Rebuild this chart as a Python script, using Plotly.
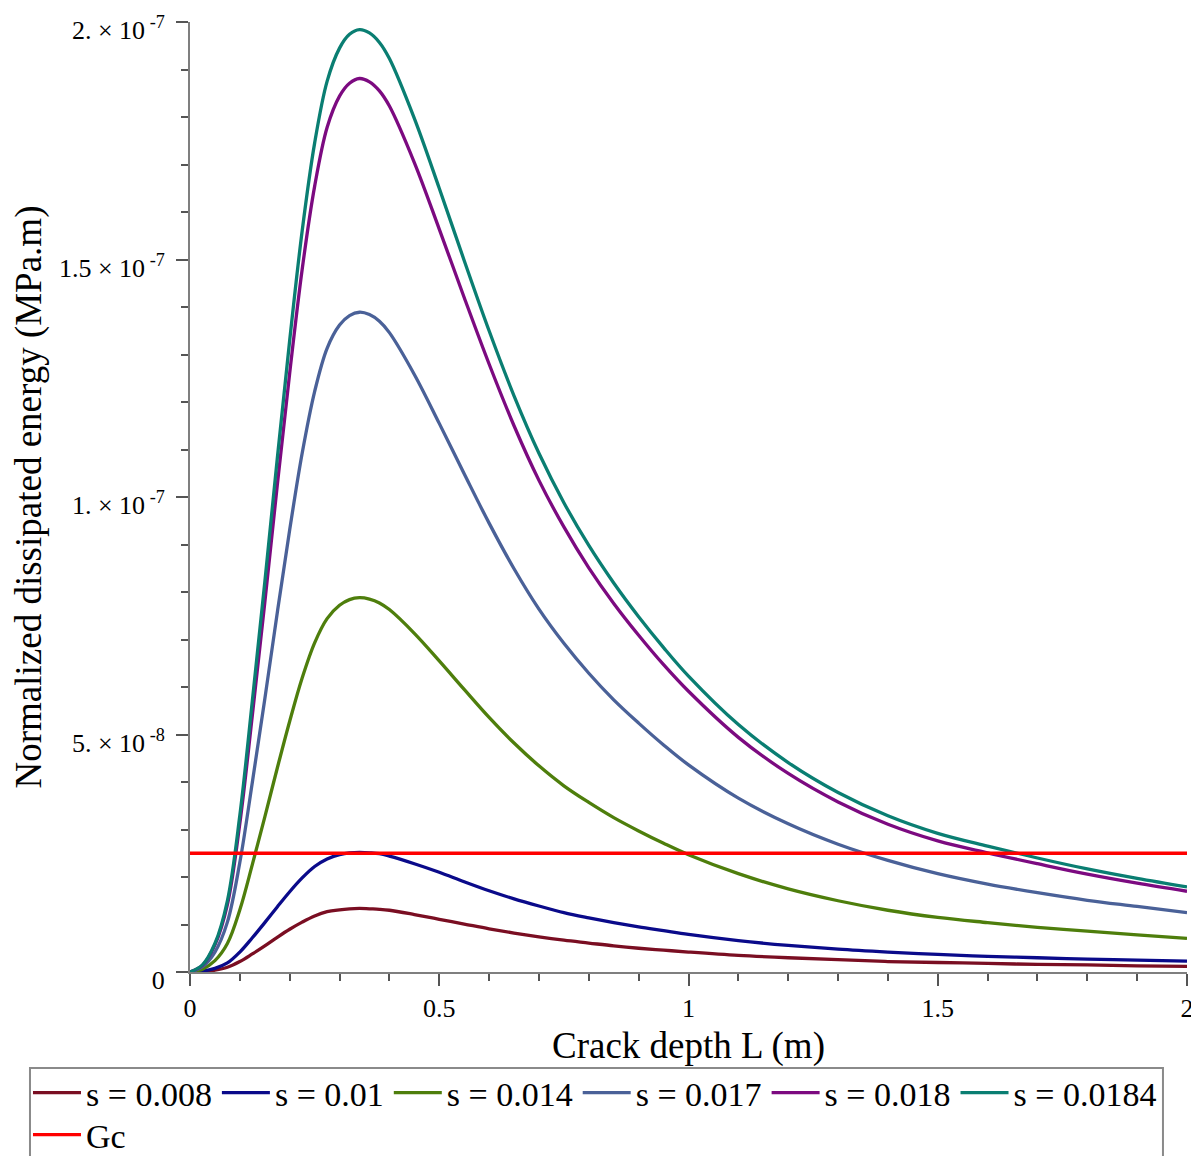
import plotly.graph_objects as go

# Crack depth L (m)
L = [0, 0.025, 0.05, 0.075, 0.1, 0.125, 0.15, 0.175, 0.2, 0.225, 0.25, 0.275, 0.3, 0.32,
     0.34, 0.36, 0.38, 0.4, 0.45, 0.5, 0.55, 0.6, 0.65, 0.7, 0.75, 0.8, 0.85, 0.9, 0.95,
     1.0, 1.1, 1.2, 1.3, 1.4, 1.5, 1.6, 1.7, 1.8, 1.9, 2.0]

# Normalized dissipated energy, in units of 1e-7 MPa.m
s_0008 = [0, 0.001, 0.004, 0.010, 0.022, 0.038, 0.055, 0.073, 0.090, 0.105, 0.118, 0.127,
          0.131, 0.133, 0.134, 0.133, 0.132, 0.130, 0.121, 0.111, 0.101, 0.091, 0.082, 0.074,
          0.067, 0.061, 0.055, 0.050, 0.046, 0.042, 0.035, 0.030, 0.026, 0.022, 0.020, 0.018,
          0.016, 0.015, 0.013, 0.012]
s_001 = [0, 0.0019, 0.0076, 0.019, 0.042, 0.072, 0.104, 0.137, 0.169, 0.198, 0.222, 0.238,
         0.247, 0.251, 0.252, 0.251, 0.249, 0.244, 0.228, 0.210, 0.190, 0.171, 0.154, 0.139,
         0.125, 0.114, 0.104, 0.095, 0.087, 0.079, 0.066, 0.056, 0.048, 0.042, 0.037, 0.033,
         0.030, 0.027, 0.025, 0.023]
s_0014 = [0, 0.006, 0.024, 0.060, 0.131, 0.226, 0.326, 0.429, 0.528, 0.619, 0.693, 0.744,
          0.772, 0.784, 0.788, 0.785, 0.777, 0.763, 0.713, 0.655, 0.595, 0.536, 0.482, 0.434,
          0.392, 0.357, 0.325, 0.297, 0.271, 0.247, 0.207, 0.175, 0.150, 0.130, 0.115, 0.104,
          0.094, 0.086, 0.078, 0.071]
s_0017 = [0, 0.011, 0.042, 0.105, 0.231, 0.399, 0.574, 0.756, 0.931, 1.092, 1.222, 1.313,
          1.362, 1.382, 1.389, 1.384, 1.370, 1.346, 1.258, 1.155, 1.049, 0.945, 0.849, 0.764,
          0.692, 0.629, 0.573, 0.524, 0.478, 0.436, 0.366, 0.312, 0.269, 0.235, 0.207, 0.185,
          0.167, 0.151, 0.138, 0.125]
s_0018 = [0, 0.014, 0.057, 0.142, 0.313, 0.540, 0.777, 1.024, 1.261, 1.479, 1.654, 1.778,
          1.844, 1.871, 1.881, 1.874, 1.855, 1.823, 1.704, 1.564, 1.420, 1.280, 1.150, 1.035,
          0.937, 0.851, 0.776, 0.709, 0.647, 0.591, 0.494, 0.418, 0.358, 0.311, 0.276, 0.251,
          0.228, 0.206, 0.187, 0.170]
s_00184 = [0, 0.015, 0.06, 0.15, 0.33, 0.57, 0.82, 1.08, 1.33, 1.56, 1.745, 1.875,
           1.945, 1.974, 1.984, 1.977, 1.957, 1.923, 1.797, 1.65, 1.498, 1.350, 1.213, 1.092,
           0.988, 0.898, 0.819, 0.748, 0.683, 0.623, 0.521, 0.441, 0.378, 0.329, 0.292, 0.265,
           0.240, 0.217, 0.197, 0.179]

Gc_L = [0, 2]
Gc = [0.25, 0.25]

series_names = ["s = 0.008", "s = 0.01", "s = 0.014", "s = 0.017", "s = 0.018", "s = 0.0184"]
series_vals = [s_0008, s_001, s_0014, s_0017, s_0018, s_00184]
colors = ["#7A0E22", "#0A0A8A", "#4E7E0C", "#4A6198", "#7C0A80", "#0A7E72"]

x_ticks = [0, 0.5, 1, 1.5, 2]
x_ticktext = ["0", "0.5", "1", "1.5", "2"]
y_ticks = [0, 0.5, 1, 1.5, 2]
y_ticktext = ["0", "5. × 10<sup> -8</sup>", "1. × 10<sup> -7</sup>",
              "1.5 × 10<sup> -7</sup>", "2. × 10<sup> -7</sup>"]

FONT = "Liberation Serif, Times New Roman, serif"

fig = go.Figure()
for name, vals, c in zip(series_names, series_vals, colors):
    fig.add_trace(go.Scatter(x=L, y=vals, mode="lines", name=name, legend="legend",
                             line=dict(color=c, width=3.3, shape="spline", smoothing=1.0)))
fig.add_trace(go.Scatter(x=Gc_L, y=Gc, mode="lines", name="Gc", legend="legend2",
                         line=dict(color="#FF0000", width=3.3)))

legend_common = dict(orientation="h", xanchor="left", yanchor="top",
                     borderwidth=0, bgcolor="rgba(0,0,0,0)",
                     font=dict(family=FONT, size=34, color="black"),
                     itemwidth=48, tracegroupgap=0)

fig.update_layout(
    template="none",
    width=1199, height=1156,
    margin=dict(l=182, r=20, t=14, b=192, autoexpand=False),
    paper_bgcolor="white", plot_bgcolor="white",
    font=dict(family=FONT, color="black", size=22),
    showlegend=True,
    legend=dict(x=-0.1625, y=-0.0968, **legend_common),
    legend2=dict(x=-0.1625, y=-0.1411, **legend_common),
    shapes=[dict(type="rect", xref="paper", yref="paper",
                 x0=-0.1605, x1=0.9759, y0=-0.1011, y1=-0.2168,
                 line=dict(color="#8a8a8a", width=2), fillcolor="rgba(0,0,0,0)",
                 layer="below")],
)
fig.update_xaxes(
    range=[0, 2], tickvals=x_ticks, ticktext=x_ticktext, automargin=False,
    ticklabeloverflow="allow",
    showgrid=False, zeroline=False,
    showline=True, linecolor="#7f7f7f", linewidth=2,
    ticks="outside", ticklen=12, tickwidth=1.5, tickcolor="#555555",
    tickfont=dict(family=FONT, size=26),
    minor=dict(dtick=0.1, ticks="outside", ticklen=7, tickwidth=1.5, tickcolor="#555555",
               showgrid=False),
    title=dict(text="Crack depth L (m)", font=dict(family=FONT, size=37), standoff=10),
)
fig.update_yaxes(
    range=[0, 2], tickvals=y_ticks, ticktext=y_ticktext, automargin=False,
    ticklabeloverflow="allow", ticklabelshift=8,
    showgrid=False, zeroline=False,
    showline=True, linecolor="#7f7f7f", linewidth=2,
    ticks="outside", ticklen=12, tickwidth=1.5, tickcolor="#555555",
    tickfont=dict(family=FONT, size=26), ticklabelstandoff=6,
    minor=dict(dtick=0.1, ticks="outside", ticklen=7, tickwidth=1.5, tickcolor="#555555",
               showgrid=False),
    title=dict(text="Normalized dissipated energy (MPa.m)", font=dict(family=FONT, size=37),
               standoff=10),
)

fig.write_html("out.html")
